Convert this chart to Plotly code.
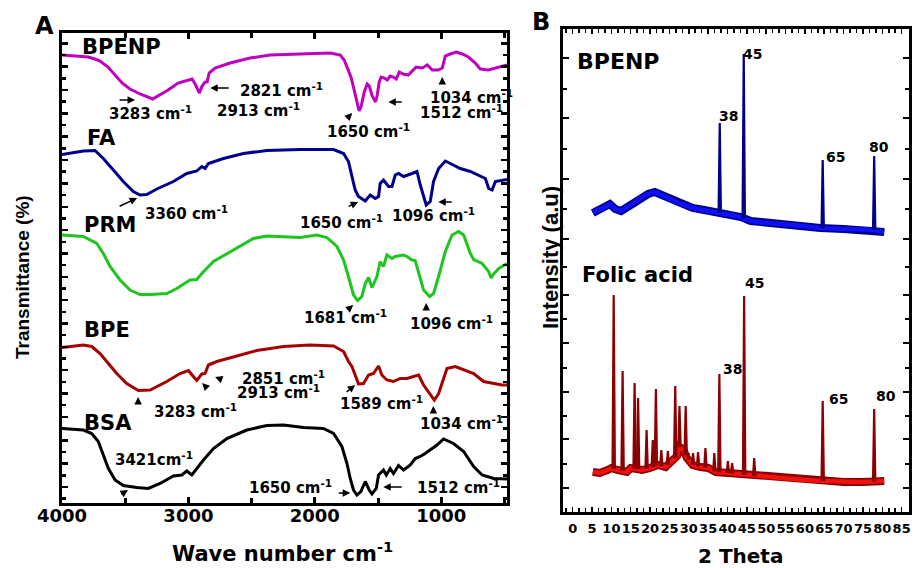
import numpy as np
import plotly.graph_objects as go

# ---------------- FTIR data (panel A) ----------------
bpenp_wn = [4000, 3897, 3794, 3739, 3699, 3636, 3580, 3525, 3462, 3383, 3283, 3224, 3161, 3082, 3003, 2971, 2947,
            2913, 2892, 2868, 2852, 2836, 2789, 2670, 2512, 2353, 2116, 1878, 1799, 1768, 1736, 1712, 1689, 1665,
            1650, 1633, 1609, 1586, 1570, 1546, 1520, 1506, 1491, 1475, 1451, 1427, 1404, 1380, 1356, 1332, 1301,
            1261, 1222, 1198, 1150, 1111, 1071, 1024, 992, 968, 929, 881, 834, 786, 731, 691, 628, 572, 533, 480]
bpenp_t = [89.6, 89.4, 89.2, 88.8, 88.4, 87.2, 85.6, 84.0, 82.8, 81.8, 80.8, 81.6, 82.6, 84.0, 84.6, 84.8, 83.8,
           82.0, 83.4, 84.2, 84.2, 86.0, 87.0, 88.0, 89.0, 89.6, 89.8, 90.0, 89.6, 88.6, 86.6, 85.0, 82.6, 79.6,
           78.4, 79.4, 82.2, 83.8, 83.4, 81.4, 80.2, 81.6, 84.2, 85.2, 85.0, 84.6, 85.4, 85.2, 84.8, 86.2, 85.8,
           85.6, 86.6, 87.2, 87.0, 87.6, 86.6, 86.6, 87.0, 89.4, 89.8, 90.2, 89.8, 89.2, 88.0, 86.8, 86.6, 87.0,
           87.2, 87.6]

fa_wn = [4000, 3831, 3739, 3673, 3594, 3515, 3436, 3383, 3330, 3250, 3119, 3013, 2934, 2894, 2868, 2842, 2723,
         2565, 2380, 2116, 1852, 1773, 1734, 1707, 1681, 1655, 1601, 1562, 1522, 1496, 1483, 1457, 1417, 1390,
         1364, 1338, 1298, 1232, 1192, 1166, 1140, 1119, 1087, 1061, 1021, 968, 929, 849, 770, 691, 651, 625,
         598, 572, 480]
fa_t = [69.7, 70.4, 70.5, 68.9, 66.6, 64.3, 62.3, 61.6, 61.7, 62.8, 64.3, 65.9, 66.4, 67.3, 66.9, 67.9, 68.9,
        69.9, 70.5, 70.7, 70.7, 69.9, 68.3, 65.6, 62.6, 61.3, 60.4, 61.6, 60.9, 61.3, 63.9, 64.6, 63.3, 63.3,
        65.6, 65.9, 65.3, 65.9, 66.3, 63.6, 61.6, 59.6, 60.3, 64.3, 66.9, 68.4, 67.9, 66.9, 66.3, 65.3, 64.9,
        62.9, 62.6, 64.3, 64.7]

prm_wn = [4000, 3831, 3725, 3673, 3620, 3541, 3462, 3383, 3303, 3198, 3171, 3092, 2987, 2934, 2894, 2802, 2644,
          2486, 2380, 2116, 1984, 1905, 1825, 1773, 1734, 1694, 1662, 1628, 1601, 1575, 1548, 1509, 1483, 1457,
          1430, 1390, 1364, 1298, 1271, 1232, 1206, 1179, 1140, 1092, 1061, 1021, 968, 915, 863, 823, 770, 744,
          677, 625, 606, 585, 545, 480]
prm_t = [53.6, 53.3, 51.9, 49.9, 47.3, 44.6, 42.6, 41.7, 41.7, 41.8, 41.9, 42.9, 44.6, 44.7, 45.9, 48.3, 50.6,
         52.9, 53.4, 53.1, 53.6, 53.1, 51.3, 48.6, 45.3, 41.6, 40.5, 41.3, 43.9, 45.1, 43.1, 45.3, 48.3, 47.3,
         49.6, 48.9, 49.3, 49.6, 49.3, 48.6, 48.5, 45.9, 42.6, 41.3, 41.9, 45.3, 50.3, 53.6, 54.3, 53.6, 49.9,
         48.7, 47.9, 46.3, 45.0, 45.8, 46.9, 47.9]

bpe_wn = [4000, 3831, 3765, 3699, 3633, 3567, 3488, 3396, 3303, 3171, 3066, 3000, 2961, 2934, 2894, 2868, 2842,
          2775, 2617, 2459, 2248, 2037, 1852, 1773, 1734, 1707, 1681, 1655, 1615, 1575, 1536, 1496, 1470, 1430,
          1378, 1325, 1272, 1219, 1179, 1140, 1087, 1055, 1021, 982, 955, 889, 823, 744, 665, 585, 519, 480]
bpe_t = [31.1, 31.6, 31.3, 29.9, 27.9, 25.9, 23.9, 22.5, 22.6, 24.3, 25.9, 26.5, 25.3, 24.5, 25.8, 25.9, 27.6,
         28.3, 29.4, 30.5, 31.3, 31.6, 31.4, 30.3, 28.3, 27.3, 25.6, 23.8, 23.9, 25.6, 25.9, 27.4, 25.6, 24.6,
         24.3, 24.9, 24.9, 25.3, 25.6, 23.6, 21.6, 20.6, 21.9, 24.6, 26.9, 27.3, 26.7, 25.9, 24.3, 23.9, 23.6,
         23.6]

bsa_wn = [4000, 3831, 3765, 3713, 3673, 3633, 3580, 3515, 3409, 3317, 3224, 3119, 3052, 3013, 2973, 2934, 2881,
          2802, 2696, 2538, 2380, 2248, 2090, 1932, 1852, 1786, 1746, 1720, 1694, 1667, 1636, 1601, 1570, 1548,
          1514, 1496, 1457, 1435, 1404, 1378, 1338, 1298, 1245, 1206, 1166, 1127, 1087, 1034, 982, 903, 823,
          744, 677, 585, 480]
bsa_t = [14.9, 14.6, 13.9, 12.3, 9.6, 6.9, 4.6, 3.5, 3.1, 2.9, 3.9, 5.4, 5.6, 6.4, 5.6, 6.9, 8.6, 10.9, 12.9,
         14.6, 15.5, 15.6, 15.1, 14.9, 13.9, 11.3, 7.9, 4.9, 2.6, 1.6, 2.3, 4.3, 2.6, 1.8, 2.9, 5.6, 6.6, 5.6,
         6.9, 5.9, 7.5, 6.6, 7.6, 8.9, 9.3, 9.9, 10.6, 11.6, 12.8, 11.9, 10.3, 7.3, 5.6, 4.9, 4.8]

ftir_names = ["BPENP", "FA", "PRM", "BPE", "BSA"]
ftir_colors = ["#C000C0", "#00008B", "#1FC51F", "#A50000", "#000000"]

# ---------------- XRD data (panel B) ----------------
bp_bg_theta = [5.2, 6.5, 8, 9.6, 11, 12.5, 15, 17.5, 19.5, 21.2, 23, 25, 28, 31, 34, 38, 43.5, 46, 50, 57,
               64, 70, 78, 80.5]
bp_bg_int = [29.9, 30.2, 30.4, 30.8, 30.3, 30.1, 30.7, 31.4, 31.8, 32.0, 31.7, 31.3, 30.8, 30.4, 30.2, 29.9,
             29.5, 29.1, 28.9, 28.7, 28.4, 28.3, 28.2, 28.0]
bp_peak_theta = [38.0, 44.2, 64.6, 77.9]
bp_peak_int = [38.9, 45.8, 35.2, 35.6]

fo_bg_theta = [5.2, 7, 9, 10, 11.5, 14, 15, 18, 20, 22, 24, 25.5, 27, 27.5, 28.5, 29.5, 31, 33, 35, 37, 40,
               43, 46, 50, 55, 60, 65, 70, 75, 80.5]
fo_bg_int = [4.0, 3.9, 4.2, 4.4, 4.2, 4.0, 4.4, 4.2, 4.4, 4.7, 4.5, 5.0, 5.6, 6.5, 6.3, 5.4, 4.7, 4.5, 4.4,
             4.0, 3.9, 3.8, 3.6, 3.5, 3.3, 3.2, 3.1, 3.0, 3.0, 3.1]
fo_peak_theta = [10.6, 12.9, 16.0, 16.9, 19.1, 20.7, 21.5, 22.9, 24.6, 26.5, 27.6, 29.2, 29.9, 31.1, 32.4,
                 34.3, 36.6, 37.9, 40.1, 41.2, 44.3, 46.9, 64.6, 77.9]
fo_peak_int = [21.7, 14.1, 12.9, 11.4, 8.2, 7.2, 12.3, 6.2, 6.1, 12.6, 10.6, 10.6, 5.9, 5.9, 6.0, 6.4, 5.9,
               13.8, 5.1, 4.9, 21.6, 5.4, 11.1, 10.3]

# ---------------- figure ----------------
fig = go.Figure()

for wn, t, c in zip([bpenp_wn, fa_wn, prm_wn, bpe_wn, bsa_wn], [bpenp_t, fa_t, prm_t, bpe_t, bsa_t], ftir_colors):
    fig.add_trace(go.Scatter(x=wn, y=t, mode="lines", line=dict(color=c, width=3),
                             xaxis="x", yaxis="y", hoverinfo="skip"))


def add_xrd(bg_x, bg_y, pk_x, pk_y, dark, bright):
    fig.add_trace(go.Scatter(x=bg_x, y=bg_y, mode="lines", line=dict(color=dark, width=8),
                             xaxis="x2", yaxis="y2", hoverinfo="skip"))
    fig.add_trace(go.Scatter(x=bg_x, y=bg_y, mode="lines", line=dict(color=bright, width=4.5),
                             xaxis="x2", yaxis="y2", hoverinfo="skip"))
    sx, sy = [], []
    for p, h in zip(pk_x, pk_y):
        base = float(np.interp(p, bg_x, bg_y))
        sx += [p - 0.3, p, p + 0.3, None]
        sy += [base, h, base, None]
    fig.add_trace(go.Scatter(x=sx, y=sy, mode="lines", line=dict(color=dark, width=2.2),
                             xaxis="x2", yaxis="y2", hoverinfo="skip"))


add_xrd(bp_bg_theta, bp_bg_int, bp_peak_theta, bp_peak_int, "#00008B", "#1010F5")
add_xrd(fo_bg_theta, fo_bg_int, fo_peak_theta, fo_peak_int, "#8B0000", "#F01010")

BOLD = "DejaVu Sans"
ann = []


def txt(x, y, s, size=15, ref="", xanchor="left", family=BOLD):
    ann.append(dict(x=x, y=y, xref="x" + ref, yref="y" + ref, text="<b>" + s + "</b>", showarrow=False,
                    xanchor=xanchor, yanchor="middle", font=dict(family=family, size=size, color="black")))


def arr(x, y, ax, ay):
    ann.append(dict(x=x, y=y, xref="x", yref="y", text="", showarrow=True, ax=ax, ay=ay, arrowhead=2,
                    arrowsize=1, arrowwidth=1.5, arrowcolor="black"))


CM = " cm<sup>-1</sup>"
# sample names
for name, x, y in zip(ftir_names, [3857, 3818, 3842, 3842, 3842], [91.2, 73.0, 55.6, 34.6, 16.0]):
    txt(x, y, name, size=21)
# BPENP
txt(3644, 78.0, "3283" + CM); arr(3422, 80.6, -17, 0)
txt(2789, 78.6, "2913" + CM)
txt(2607, 82.6, "2821" + CM); arr(2828, 83.0, 20, 0)
txt(1918, 74.4, "1650" + CM); arr(1704, 78.0, -6, 6)
txt(1103, 81.2, "1034" + CM); arr(992, 85.2, 0, 7)
txt(1182, 78.2, "1512" + CM); arr(1419, 80.2, 15, 0)
# FA
txt(3359, 58.0, "3360" + CM); arr(3406, 61.0, -19, 9)
txt(2132, 56.2, "1650" + CM); arr(1657, 60.2, -11, 5)
txt(1404, 57.6, "1096" + CM); arr(1024, 60.2, 15, 0)
# PRM
txt(2100, 37.2, "1681" + CM); arr(1696, 39.6, -6, 5)
txt(1261, 36.0, "1096" + CM); arr(1119, 40.0, 0, 7)
# BPE
txt(2591, 25.0, "2851" + CM); arr(2789, 25.2, 8, 3)
txt(2631, 22.2, "2913" + CM); arr(2892, 24.0, 5, 5)
txt(3288, 18.4, "3283" + CM); arr(3398, 21.2, 0, 8)
txt(1815, 20.0, "1589" + CM); arr(1681, 23.6, -10, 8)
txt(1182, 16.0, "1034" + CM); arr(1063, 19.4, 0, 7)
# BSA
txt(3596, 8.8, "3421cm<sup>-1</sup>"); arr(3478, 2.6, -8, 5)
txt(2536, 3.2, "1650" + CM); arr(1720, 2.0, -13, 0)
txt(1206, 3.2, "1512" + CM); arr(1459, 3.2, 20, 0)

# panel B labels
txt(0.6, 45.0, "BPENP", size=22, ref="2")
txt(1.9, 23.7, "Folic acid", size=21, ref="2")
for x, y, s in [(37.4, 39.6, "38"), (43.6, 45.8, "45"), (65.0, 35.5, "65"), (76.1, 36.5, "80"),
                (43.9, 22.9, "45"), (38.2, 14.3, "38"), (65.8, 11.3, "65"), (77.9, 11.6, "80")]:
    txt(x, y, s, size=14, ref="2")


def paper(x, y, s, size, angle=0, family=BOLD):
    ann.append(dict(x=x, y=y, xref="paper", yref="paper", text="<b>" + s + "</b>", showarrow=False,
                    xanchor="center", yanchor="middle", textangle=angle,
                    font=dict(family=family, size=size, color="black")))


paper(44 / 915, 1 - 26 / 568, "A", 24)
paper(541 / 915, 1 - 22 / 568, "B", 24)
paper(282 / 915, 1 - 552 / 568, "Wave number cm<sup>-1</sup>", 21)
paper(740 / 915, 1 - 556 / 568, "2 Theta", 20)
paper(22 / 915, 1 - 277 / 568, "Transmittance (%)", 19, angle=-90, family="Liberation Sans")
paper(550 / 915, 1 - 258 / 568, "Intensity (a.u)", 22, angle=-90, family="Liberation Sans")

frame = dict(showline=True, linewidth=3, linecolor="black", mirror="ticks", showgrid=False, zeroline=False,
             ticks="inside", tickcolor="black", automargin=False)

fig.update_layout(
    width=915, height=568, margin=dict(l=0, r=0, t=0, b=0, autoexpand=False),
    paper_bgcolor="white", plot_bgcolor="white", showlegend=False, hovermode=False,
    annotations=ann,
    xaxis=dict(domain=[62 / 915, 507 / 915], range=[4000, 480], anchor="y",
               tickvals=[4000, 3000, 2000, 1000], ticklen=6, tickwidth=3, ticklabelstandoff=-6, tickangle=0,
               tickfont=dict(family=BOLD, size=18, color="black", weight="bold"),
               minor=dict(dtick=500, tick0=0, ticklen=5, tickwidth=3, ticks="inside", tickcolor="black"),
               **frame),
    yaxis=dict(domain=[1 - 503 / 568, 1 - 33 / 568], range=[0, 94], anchor="x",
               tick0=91.94, dtick=4.67, ticklen=6, tickwidth=2.5, showticklabels=False,
               minor=dict(dtick=2.335, tick0=91.94, ticklen=4, tickwidth=2.5, ticks="inside", tickcolor="black"),
               **frame),
    xaxis2=dict(domain=[563 / 915, 909 / 915], range=[-2.5, 86.9], anchor="y2",
                tick0=0, dtick=5, ticklen=5, tickwidth=1.5, ticklabelstandoff=2, tickangle=0,
                tickfont=dict(family=BOLD, size=13, color="black", weight="bold"),
                minor=dict(dtick=5 / 3, tick0=0, ticklen=4, tickwidth=1.5, ticks="inside", tickcolor="black"),
                **frame),
    yaxis2=dict(domain=[1 - 512 / 568, 1 - 29 / 568], range=[0, 48.3], anchor="x2",
                tickmode="array", tickvals=[45.4, 39.4, 33.3, 27.3, 21.7, 16.9, 12.0, 7.3, 2.4],
                ticklen=6, tickwidth=1.5, showticklabels=False,
                minor=dict(tickmode="array", tickvals=[42.3, 36.3, 30.3, 24.5, 19.3, 14.4, 9.6, 4.8],
                           ticklen=4, tickwidth=1.5, ticks="inside", tickcolor="black"),
                **frame),
)

fig.write_html("out.html", config={"displayModeBar": False, "staticPlot": True})

# remove the browser's default page margin so the figure sits at the window origin
with open("out.html", "r", encoding="utf-8") as f:
    html = f.read()
html = html.replace("<head>", "<head><style>html,body{margin:0;padding:0;overflow:hidden;}</style>", 1)
with open("out.html", "w", encoding="utf-8") as f:
    f.write(html)
